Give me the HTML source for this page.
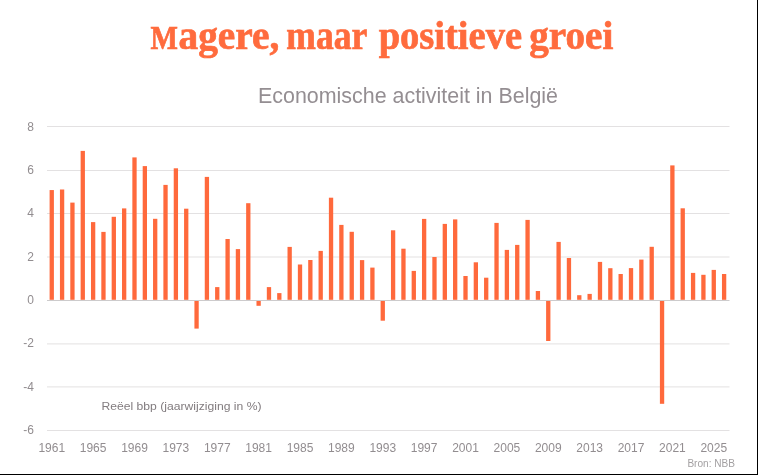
<!DOCTYPE html>
<html><head><meta charset="utf-8">
<style>
html,body{margin:0;padding:0;background:#fff;}
body{width:758px;height:475px;overflow:hidden;position:relative;}
svg{position:absolute;left:0;top:0;will-change:transform;}
.t{font-family:"Liberation Sans",sans-serif;font-size:12px;fill:#928d90;}
.title{font-family:"Liberation Serif",serif;font-weight:bold;font-size:39px;fill:#ff6b3d;stroke:#ff6b3d;stroke-width:0.7px;}
.sub{font-family:"Liberation Sans",sans-serif;font-size:21.5px;fill:#948e92;}
.ann{font-family:"Liberation Sans",sans-serif;font-size:11px;fill:#827c7f;}
.src{font-family:"Liberation Sans",sans-serif;font-size:10.5px;fill:#a3a0a2;}
</style></head>
<body>
<svg width="758" height="475" viewBox="0 0 758 475">
<rect x="0" y="0" width="758" height="475" fill="#fff"/>
<text x="150.6" y="49" class="title" style="font-size:34px" textLength="27.4" lengthAdjust="spacingAndGlyphs">M</text>
<text x="178.5" y="49" class="title" textLength="100.8" lengthAdjust="spacingAndGlyphs">agere,</text>
<text x="286.3" y="49" class="title" textLength="81" lengthAdjust="spacingAndGlyphs">maar</text>
<text x="378.7" y="49" class="title" textLength="143.3" lengthAdjust="spacingAndGlyphs">positieve</text>
<text x="529.3" y="49" class="title" textLength="84" lengthAdjust="spacingAndGlyphs">groei</text>
<text x="258" y="102.6" class="sub" textLength="300" lengthAdjust="spacingAndGlyphs">Economische activiteit in België</text>
<rect x="47" y="126.00" width="682.5" height="1" fill="#e3e1e2"/>
<text x="33.9" y="131" text-anchor="end" class="t">8</text>
<rect x="47" y="170.00" width="682.5" height="1" fill="#e3e1e2"/>
<text x="33.9" y="174" text-anchor="end" class="t">6</text>
<rect x="47" y="213.00" width="682.5" height="1" fill="#e3e1e2"/>
<text x="33.9" y="217" text-anchor="end" class="t">4</text>
<rect x="47" y="256.50" width="682.5" height="1" fill="#e3e1e2"/>
<text x="33.9" y="261" text-anchor="end" class="t">2</text>
<text x="33.9" y="304" text-anchor="end" class="t">0</text>
<rect x="47" y="343.40" width="682.5" height="1" fill="#e3e1e2"/>
<text x="33.9" y="347" text-anchor="end" class="t">-2</text>
<rect x="47" y="386.40" width="682.5" height="1" fill="#e3e1e2"/>
<text x="33.9" y="391" text-anchor="end" class="t">-4</text>
<rect x="47" y="430.00" width="682.5" height="1" fill="#e3e1e2"/>
<text x="33.9" y="434" text-anchor="end" class="t">-6</text>
<rect x="49.60" y="190.06" width="4.3" height="109.74" fill="#ff693c"/>
<rect x="59.94" y="189.50" width="4.3" height="110.30" fill="#ff693c"/>
<rect x="70.29" y="202.60" width="4.3" height="97.20" fill="#ff693c"/>
<rect x="80.63" y="150.90" width="4.3" height="148.90" fill="#ff693c"/>
<rect x="90.98" y="222.10" width="4.3" height="77.70" fill="#ff693c"/>
<rect x="101.32" y="231.90" width="4.3" height="67.90" fill="#ff693c"/>
<rect x="111.66" y="216.80" width="4.3" height="83.00" fill="#ff693c"/>
<rect x="122.01" y="208.40" width="4.3" height="91.40" fill="#ff693c"/>
<rect x="132.35" y="157.40" width="4.3" height="142.40" fill="#ff693c"/>
<rect x="142.70" y="166.10" width="4.3" height="133.70" fill="#ff693c"/>
<rect x="153.04" y="218.80" width="4.3" height="81.00" fill="#ff693c"/>
<rect x="163.38" y="184.90" width="4.3" height="114.90" fill="#ff693c"/>
<rect x="173.73" y="168.30" width="4.3" height="131.50" fill="#ff693c"/>
<rect x="184.07" y="208.70" width="4.3" height="91.10" fill="#ff693c"/>
<rect x="194.42" y="300.80" width="4.3" height="27.80" fill="#ff693c"/>
<rect x="204.76" y="176.90" width="4.3" height="122.90" fill="#ff693c"/>
<rect x="215.10" y="287.10" width="4.3" height="12.70" fill="#ff693c"/>
<rect x="225.45" y="239.00" width="4.3" height="60.80" fill="#ff693c"/>
<rect x="235.79" y="249.10" width="4.3" height="50.70" fill="#ff693c"/>
<rect x="246.14" y="203.20" width="4.3" height="96.60" fill="#ff693c"/>
<rect x="256.48" y="300.80" width="4.3" height="5.00" fill="#ff693c"/>
<rect x="266.82" y="287.10" width="4.3" height="12.70" fill="#ff693c"/>
<rect x="277.17" y="293.10" width="4.3" height="6.70" fill="#ff693c"/>
<rect x="287.51" y="246.90" width="4.3" height="52.90" fill="#ff693c"/>
<rect x="297.86" y="264.50" width="4.3" height="35.30" fill="#ff693c"/>
<rect x="308.20" y="260.00" width="4.3" height="39.80" fill="#ff693c"/>
<rect x="318.54" y="250.90" width="4.3" height="48.90" fill="#ff693c"/>
<rect x="328.89" y="197.70" width="4.3" height="102.10" fill="#ff693c"/>
<rect x="339.23" y="224.90" width="4.3" height="74.90" fill="#ff693c"/>
<rect x="349.58" y="231.80" width="4.3" height="68.00" fill="#ff693c"/>
<rect x="359.92" y="260.10" width="4.3" height="39.70" fill="#ff693c"/>
<rect x="370.26" y="267.60" width="4.3" height="32.20" fill="#ff693c"/>
<rect x="380.61" y="300.80" width="4.3" height="19.90" fill="#ff693c"/>
<rect x="390.95" y="230.30" width="4.3" height="69.50" fill="#ff693c"/>
<rect x="401.30" y="248.70" width="4.3" height="51.10" fill="#ff693c"/>
<rect x="411.64" y="270.90" width="4.3" height="28.90" fill="#ff693c"/>
<rect x="421.98" y="218.90" width="4.3" height="80.90" fill="#ff693c"/>
<rect x="432.33" y="257.00" width="4.3" height="42.80" fill="#ff693c"/>
<rect x="442.67" y="223.90" width="4.3" height="75.90" fill="#ff693c"/>
<rect x="453.02" y="219.40" width="4.3" height="80.40" fill="#ff693c"/>
<rect x="463.36" y="276.00" width="4.3" height="23.80" fill="#ff693c"/>
<rect x="473.70" y="262.30" width="4.3" height="37.50" fill="#ff693c"/>
<rect x="484.05" y="277.70" width="4.3" height="22.10" fill="#ff693c"/>
<rect x="494.39" y="222.90" width="4.3" height="76.90" fill="#ff693c"/>
<rect x="504.74" y="249.90" width="4.3" height="49.90" fill="#ff693c"/>
<rect x="515.08" y="244.90" width="4.3" height="54.90" fill="#ff693c"/>
<rect x="525.42" y="219.90" width="4.3" height="79.90" fill="#ff693c"/>
<rect x="535.77" y="291.00" width="4.3" height="8.80" fill="#ff693c"/>
<rect x="546.11" y="300.80" width="4.3" height="40.20" fill="#ff693c"/>
<rect x="556.46" y="241.90" width="4.3" height="57.90" fill="#ff693c"/>
<rect x="566.80" y="258.00" width="4.3" height="41.80" fill="#ff693c"/>
<rect x="577.14" y="295.20" width="4.3" height="4.60" fill="#ff693c"/>
<rect x="587.49" y="293.90" width="4.3" height="5.90" fill="#ff693c"/>
<rect x="597.83" y="261.90" width="4.3" height="37.90" fill="#ff693c"/>
<rect x="608.18" y="268.20" width="4.3" height="31.60" fill="#ff693c"/>
<rect x="618.52" y="274.00" width="4.3" height="25.80" fill="#ff693c"/>
<rect x="628.86" y="268.10" width="4.3" height="31.70" fill="#ff693c"/>
<rect x="639.21" y="259.60" width="4.3" height="40.20" fill="#ff693c"/>
<rect x="649.55" y="246.80" width="4.3" height="53.00" fill="#ff693c"/>
<rect x="659.90" y="300.80" width="4.3" height="103.00" fill="#ff693c"/>
<rect x="670.24" y="165.40" width="4.3" height="134.40" fill="#ff693c"/>
<rect x="680.58" y="208.30" width="4.3" height="91.50" fill="#ff693c"/>
<rect x="690.93" y="272.90" width="4.3" height="26.90" fill="#ff693c"/>
<rect x="701.27" y="274.80" width="4.3" height="25.00" fill="#ff693c"/>
<rect x="711.62" y="269.90" width="4.3" height="29.90" fill="#ff693c"/>
<rect x="721.96" y="274.00" width="4.3" height="25.80" fill="#ff693c"/>
<rect x="47" y="300" width="682.5" height="1" fill="#cdcbcc"/>
<text x="51.75" y="452" text-anchor="middle" class="t">1961</text>
<text x="93.13" y="452" text-anchor="middle" class="t">1965</text>
<text x="134.50" y="452" text-anchor="middle" class="t">1969</text>
<text x="175.88" y="452" text-anchor="middle" class="t">1973</text>
<text x="217.25" y="452" text-anchor="middle" class="t">1977</text>
<text x="258.63" y="452" text-anchor="middle" class="t">1981</text>
<text x="300.01" y="452" text-anchor="middle" class="t">1985</text>
<text x="341.38" y="452" text-anchor="middle" class="t">1989</text>
<text x="382.76" y="452" text-anchor="middle" class="t">1993</text>
<text x="424.13" y="452" text-anchor="middle" class="t">1997</text>
<text x="465.51" y="452" text-anchor="middle" class="t">2001</text>
<text x="506.89" y="452" text-anchor="middle" class="t">2005</text>
<text x="548.26" y="452" text-anchor="middle" class="t">2009</text>
<text x="589.64" y="452" text-anchor="middle" class="t">2013</text>
<text x="631.01" y="452" text-anchor="middle" class="t">2017</text>
<text x="672.39" y="452" text-anchor="middle" class="t">2021</text>
<text x="713.77" y="452" text-anchor="middle" class="t">2025</text>
<text x="101.5" y="409.9" class="ann" textLength="160" lengthAdjust="spacingAndGlyphs">Reëel bbp (jaarwijziging in %)</text>
<text x="687.4" y="466.6" class="src" textLength="47.6" lengthAdjust="spacingAndGlyphs">Bron: NBB</text>
<rect x="757" y="0" width="1" height="475" fill="#000"/>
<rect x="0" y="474" width="758" height="1" fill="#000"/>
</svg>
</body></html>
